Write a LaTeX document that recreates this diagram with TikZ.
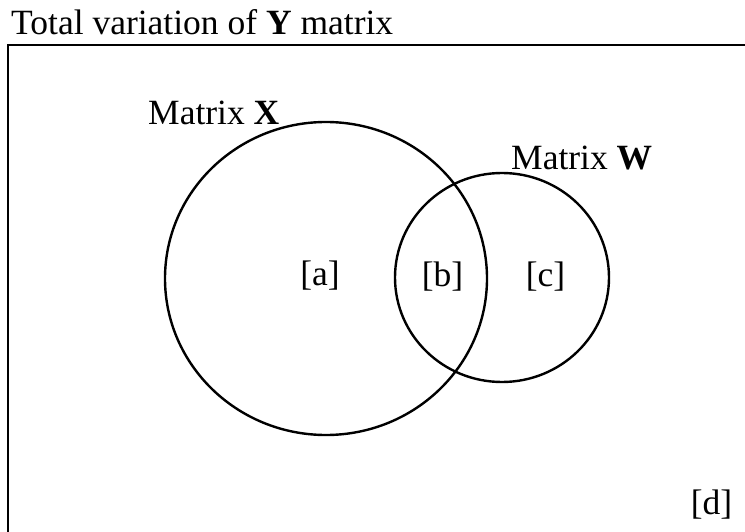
\documentclass[tikz,border=0pt]{standalone}
\usepackage{fontspec}
\setmainfont{Liberation Serif}
\usetikzlibrary{shapes.geometric}
\begin{document}
\begin{tikzpicture}[x=1pt,y=-1pt,
  lbl/.style={inner sep=0pt,font=\fontsize{35.5}{42}\selectfont},
  ring/.style={draw,line width=2.4pt,ellipse,inner sep=0pt}]
\useasboundingbox (0,0) rectangle (745,532);
\draw[line width=2.2pt] (8,45) rectangle (800,600);
\node[lbl,anchor=base west] (title) at (11,35) {Total variation of \textbf{Y} matrix};
\node[ring,minimum width=322pt,minimum height=313pt] (X) at (326,278.5) {};
\node[ring,minimum width=214pt,minimum height=209pt] (W) at (502,277.5) {};
\node[lbl,anchor=base west] (lx) at (148,125) {Matrix \textbf{X}};
\node[lbl,anchor=base west] (lw) at (511,170) {Matrix \textbf{W}};
\node[lbl,anchor=base] (a) at (320,285) {[a]};
\node[lbl,anchor=base] (b) at (442.5,287) {[b]};
\node[lbl,anchor=base] (c) at (545.5,287) {[c]};
\node[lbl,anchor=base] (d) at (711.5,514) {[d]};
\end{tikzpicture}
\end{document}
